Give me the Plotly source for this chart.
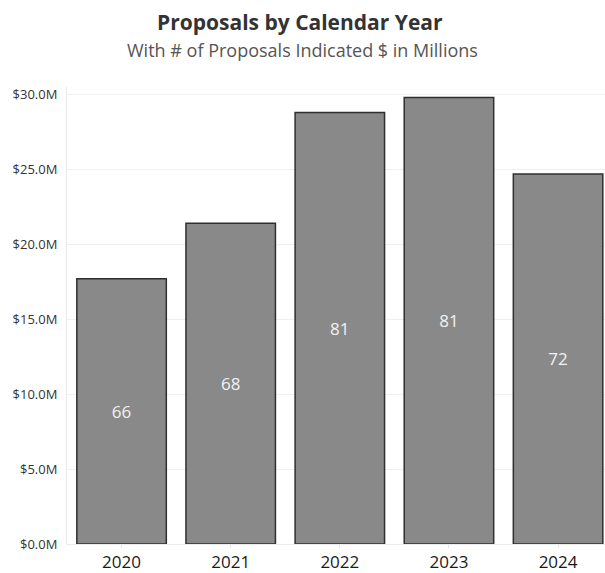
import plotly.graph_objects as go

years = ["2020", "2021", "2022", "2023", "2024"]
amounts_m = [17.7, 21.4, 28.8, 29.8, 24.7]
proposal_counts = [66, 68, 81, 81, 72]
y_ticks = [0, 5, 10, 15, 20, 25, 30]
y_tick_text = ["$0.0M", "$5.0M", "$10.0M", "$15.0M", "$20.0M", "$25.0M", "$30.0M"]

W, H = 605, 573
L, R, T, B = 67, 0, 87, 29

fig = go.Figure(
    go.Bar(
        x=list(range(len(years))),
        y=amounts_m,
        width=0.82,
        text=[str(c) for c in proposal_counts],
        textposition="inside",
        insidetextanchor="middle",
        textangle=0,
        textfont=dict(family="Open Sans, Lato, sans-serif", size=17, color="#f2f2f2"),
        marker=dict(color="#898989", line=dict(color="#2f2f2f", width=1.5)),
        hoverinfo="skip",
    )
)

fig.update_layout(
    width=W,
    height=H,
    margin=dict(l=L, r=R, t=T, b=B, pad=0, autoexpand=False),
    paper_bgcolor="white",
    plot_bgcolor="white",
    showlegend=False,
    font=dict(family="Open Sans, Lato, sans-serif", color="#333333"),
    annotations=[
        dict(text="<b>Proposals by Calendar Year</b>", x=300, y=H - 22, xref="paper", yref="paper",
             showarrow=False, font=dict(size=21, color="#333333")),
        dict(text="With # of Proposals Indicated $ in Millions", x=302, y=H - 50, xref="paper", yref="paper",
             showarrow=False, font=dict(size=18, color="#555555")),
    ],
)
# place title annotations in pixel terms
plot_w = W - L - R
plot_h = H - T - B
for a in fig.layout.annotations:
    a.x = (a.x - L) / plot_w
    a.y = (a.y - B) / plot_h
    a.xanchor = "center"
    a.yanchor = "middle"

fig.update_xaxes(
    range=[-0.5, 4.43],
    automargin=False,
    tickmode="array",
    tickvals=list(range(len(years))),
    ticktext=years,
    tickson="boundaries",
    ticks="outside",
    ticklen=3,
    tickcolor="#e4e4e4",
    tickfont=dict(size=17, color="#1a1a1a"),
    showgrid=False,
    showline=True,
    linecolor="#ececec",
    linewidth=1,
    zeroline=False,
    fixedrange=True,
)
fig.update_yaxes(
    range=[0, 30.5],
    automargin=False,
    tickmode="array",
    tickvals=y_ticks,
    ticktext=y_tick_text,
    tickfont=dict(size=13, color="#333333"),
    ticks="",
    ticklabelstandoff=6,
    showgrid=True,
    gridcolor="#f0f0f0",
    gridwidth=1,
    showline=True,
    linecolor="#e8e8e8",
    zeroline=False,
    fixedrange=True,
)

fig.write_html("out.html", config={"displayModeBar": False})
